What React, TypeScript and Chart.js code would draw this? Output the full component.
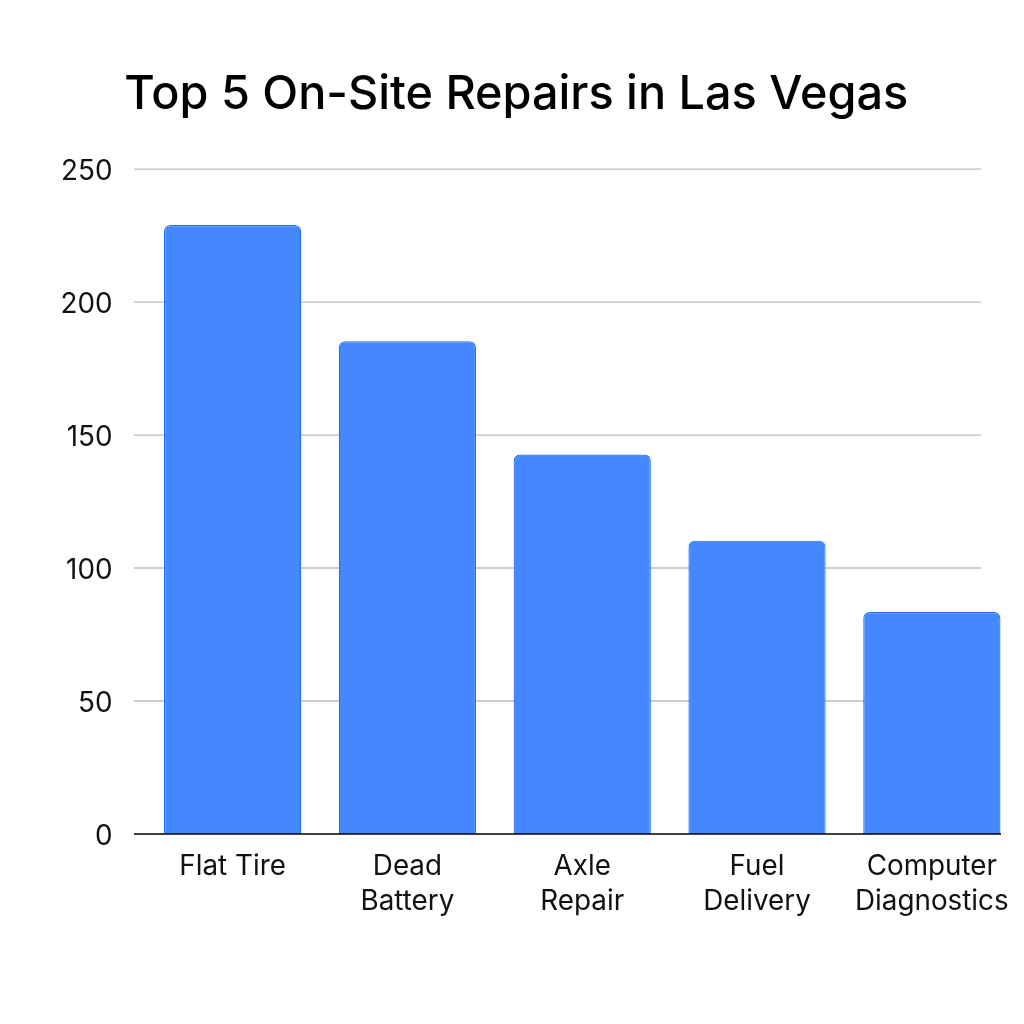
import { useEffect, useRef } from 'react';
import { Chart, registerables } from 'chart.js';

Chart.register(...registerables);

const categories = [
	['Flat Tire'],
	['Dead', 'Battery'],
	['Axle', 'Repair'],
	['Fuel', 'Delivery'],
	['Computer', 'Diagnostics']
];
const repairs = [229, 185.3, 142.7, 110.3, 83.5];
const titleText = 'Top 5 On-Site Repairs in Las Vegas';
const fontFamily = 'Inter';

// grid lines stop short of the last bar, the baseline runs under all of them
const lineStart = 134;
const gridEnd = 981;
const baseEnd = 1001;

const refLines = {
	id: 'refLines',
	beforeDatasetsDraw(chart: Chart) {
		const y = chart.scales.y;
		const ctx = chart.ctx;
		ctx.save();
		ctx.strokeStyle = '#bdbdbd';
		ctx.lineWidth = 1.4;
		y.ticks.forEach((t) => {
			if (t.value === 0) return;
			const py = y.getPixelForValue(t.value);
			ctx.beginPath();
			ctx.moveTo(lineStart, py);
			ctx.lineTo(gridEnd, py);
			ctx.stroke();
		});
		ctx.restore();
	},
	afterDatasetsDraw(chart: Chart) {
		const py = chart.scales.y.getPixelForValue(0);
		const ctx = chart.ctx;
		ctx.save();
		ctx.strokeStyle = '#000000';
		ctx.lineWidth = 1.6;
		ctx.beginPath();
		ctx.moveTo(lineStart, py);
		ctx.lineTo(baseEnd, py);
		ctx.stroke();
		ctx.restore();
	}
};

export default function App() {
	const canvasRef = useRef<HTMLCanvasElement | null>(null);

	useEffect(() => {
		if (!canvasRef.current) return;
		const chart = new Chart(canvasRef.current, {
			type: 'bar',
			data: {
				labels: categories,
				datasets: [
					{
						data: repairs,
						backgroundColor: '#4487ff',
						borderColor: '#1f6fff',
						borderWidth: 1.2,
						borderRadius: 6,
						borderSkipped: 'bottom',
						barPercentage: 0.785,
						categoryPercentage: 1
					}
				]
			},
			options: {
				responsive: false,
				animation: false,
				layout: { padding: { left: 12, right: 3.5, top: 0, bottom: 0 } },
				plugins: {
					legend: { display: false },
					tooltip: { enabled: false },
					title: {
						display: true,
						text: titleText,
						color: '#000000',
						font: { family: fontFamily, size: 46.8, weight: '500', lineHeight: 1.2 },
						padding: { top: 67, bottom: 46 }
					}
				},
				scales: {
					x: {
						grid: { display: false, drawTicks: false },
						border: { display: false },
						ticks: {
							color: '#111111',
							padding: 15,
							maxRotation: 0,
							autoSkip: false,
							font: { family: fontFamily, size: 27.8, lineHeight: 1.27 }
						},
						afterFit: (s) => {
							s.height = 190;
						}
					},
					y: {
						min: 0,
						max: 250,
						grid: { display: false, drawTicks: false },
						border: { display: false },
						ticks: {
							stepSize: 50,
							color: '#111111',
							padding: 32.7,
							labelOffset: 2.5,
							font: { family: fontFamily, size: 27.8 }
						},
						afterFit: (s) => {
							s.width = 133.2;
						}
					}
				}
			},
			plugins: [refLines]
		});

		return () => {
			chart.destroy();
		};
	}, []);

	return (
		<div style={{ position: 'absolute', left: 0, top: 0, width: 1024, height: 1024 }}>
			<canvas ref={canvasRef} width={1024} height={1024} style={{ display: 'block' }} />
		</div>
	);
}
